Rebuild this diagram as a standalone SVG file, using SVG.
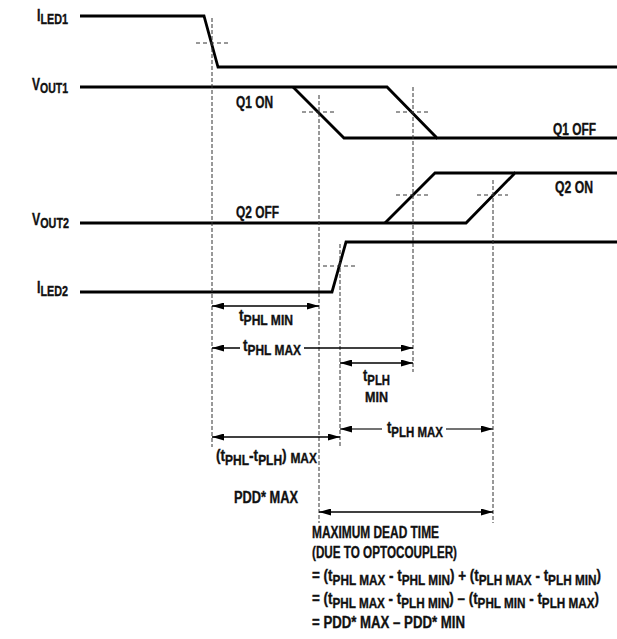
<svg xmlns="http://www.w3.org/2000/svg" width="617" height="639" viewBox="0 0 617 639">
<style>
text{font-family:"Liberation Sans",Arial,sans-serif;font-weight:bold;font-size:16px;fill:#111;stroke:#111;stroke-width:0.35}
.sub{font-size:14px}
.sig{fill:none;stroke:#000;stroke-width:2.8;stroke-linejoin:miter}
.vd{stroke:#333;stroke-width:1;stroke-dasharray:4 2;fill:none}
.hd{stroke:#333;stroke-width:1;stroke-dasharray:4 3;fill:none}
.arr{stroke:#000;stroke-width:1.5;fill:none}
.arrg{stroke:#444;stroke-width:1.5;fill:none}
</style>
<defs>
<marker id="ah" viewBox="0 0 12 7" refX="12" refY="3.5" markerWidth="12" markerHeight="7" markerUnits="userSpaceOnUse" orient="auto-start-reverse">
<path d="M0,0 L12,3.5 L0,7 Z" fill="#000"/>
</marker>
</defs>
<g id="iled1">
<polyline class="sig" points="80,16 204,16 218,67 617,67"/>
<text x="37" y="21" textLength="31" lengthAdjust="spacingAndGlyphs">I<tspan class="sub" dy="3">LED1</tspan></text>
</g>
<g id="vout1">
<polyline class="sig" points="80,87 387,87 437,138 617,138"/>
<polyline class="sig" points="293,87 344,138 437,138"/>
<text x="32" y="90" textLength="36" lengthAdjust="spacingAndGlyphs">V<tspan class="sub" dy="3">OUT1</tspan></text>
<text x="236" y="108" textLength="37" lengthAdjust="spacingAndGlyphs">Q1 ON</text>
<text x="553" y="135" textLength="43" lengthAdjust="spacingAndGlyphs">Q1 OFF</text>
</g>
<g id="vout2">
<polyline class="sig" points="80,223 466,223 515,173 617,173"/>
<polyline class="sig" points="385,223 435,173 515,173"/>
<text x="32" y="225" textLength="37" lengthAdjust="spacingAndGlyphs">V<tspan class="sub" dy="3">OUT2</tspan></text>
<text x="236" y="218" textLength="43" lengthAdjust="spacingAndGlyphs">Q2 OFF</text>
<text x="555" y="193" textLength="38" lengthAdjust="spacingAndGlyphs">Q2 ON</text>
</g>
<g id="iled2">
<polyline class="sig" points="80,292 332,292 346,242 617,242"/>
<text x="37" y="293" textLength="31" lengthAdjust="spacingAndGlyphs">I<tspan class="sub" dy="3">LED2</tspan></text>
</g>
<g id="connectors">
<line class="vd" x1="212" y1="18" x2="212" y2="447"/>
<line class="vd" x1="319" y1="95" x2="319" y2="523"/>
<line class="vd" x1="413" y1="87" x2="413" y2="372"/>
<line class="vd" x1="340" y1="244" x2="340" y2="448"/>
<line class="vd" x1="493" y1="180" x2="493" y2="523"/>
<line class="hd" x1="196" y1="43" x2="228" y2="43"/>
<line class="hd" x1="302" y1="112" x2="334" y2="112"/>
<line class="hd" x1="396" y1="112" x2="428" y2="112"/>
<line class="hd" x1="396" y1="195" x2="428" y2="195"/>
<line class="hd" x1="477" y1="195" x2="508" y2="195"/>
<line class="hd" x1="323" y1="266" x2="355" y2="266"/>
<line class="arr" x1="212" y1="306" x2="319" y2="306" marker-start="url(#ah)" marker-end="url(#ah)"/>
<line class="arr" x1="212" y1="348" x2="240" y2="348" marker-start="url(#ah)"/>
<line class="arr" x1="304" y1="348" x2="413" y2="348" marker-end="url(#ah)"/>
<line class="arr" x1="340" y1="363" x2="413" y2="363" marker-start="url(#ah)" marker-end="url(#ah)"/>
<line class="arrg" x1="340" y1="429" x2="382" y2="429" marker-start="url(#ah)"/>
<line class="arrg" x1="446" y1="429" x2="493" y2="429" marker-end="url(#ah)"/>
<line class="arr" x1="212" y1="437" x2="340" y2="437" marker-start="url(#ah)" marker-end="url(#ah)"/>
<line class="arr" x1="319" y1="512" x2="493" y2="512" marker-start="url(#ah)" marker-end="url(#ah)"/>
</g>
<g id="labels">
<text x="239" y="321" textLength="54" lengthAdjust="spacingAndGlyphs">t<tspan class="sub" dy="4">PHL MIN</tspan></text>
<text x="243" y="351" textLength="58" lengthAdjust="spacingAndGlyphs">t<tspan class="sub" dy="4">PHL MAX</tspan></text>
<text x="363" y="381" textLength="27" lengthAdjust="spacingAndGlyphs">t<tspan class="sub" dy="4">PLH</tspan></text>
<text x="365" y="402" class="sub" textLength="23" lengthAdjust="spacingAndGlyphs">MIN</text>
<text x="387" y="433" textLength="56" lengthAdjust="spacingAndGlyphs">t<tspan class="sub" dy="4">PLH MAX</tspan></text>
<text x="216" y="461" textLength="101" lengthAdjust="spacingAndGlyphs">(t<tspan class="sub" dy="4">PHL</tspan><tspan dy="-4">-t</tspan><tspan class="sub" dy="4">PLH</tspan><tspan dy="-4">) </tspan><tspan class="sub" dy="2">MAX</tspan></text>
<text x="234" y="503" textLength="64" lengthAdjust="spacingAndGlyphs">PDD* MAX</text>
<text x="312" y="538" textLength="127" lengthAdjust="spacingAndGlyphs">MAXIMUM DEAD TIME</text>
<text x="312" y="558" textLength="145" lengthAdjust="spacingAndGlyphs">(DUE TO OPTOCOUPLER)</text>
<text x="312" y="581" textLength="289" lengthAdjust="spacingAndGlyphs">= (t<tspan class="sub" dy="4">PHL MAX</tspan><tspan dy="-4"> - t</tspan><tspan class="sub" dy="4">PHL MIN</tspan><tspan dy="-4">) + (t</tspan><tspan class="sub" dy="4">PLH MAX</tspan><tspan dy="-4"> - t</tspan><tspan class="sub" dy="4">PLH MIN</tspan><tspan dy="-4">)</tspan></text>
<text x="312" y="604" textLength="287" lengthAdjust="spacingAndGlyphs">= (t<tspan class="sub" dy="4">PHL MAX</tspan><tspan dy="-4"> - t</tspan><tspan class="sub" dy="4">PLH MIN</tspan><tspan dy="-4">) – (t</tspan><tspan class="sub" dy="4">PHL MIN</tspan><tspan dy="-4"> - t</tspan><tspan class="sub" dy="4">PLH MAX</tspan><tspan dy="-4">)</tspan></text>
<text x="312" y="628" textLength="153" lengthAdjust="spacingAndGlyphs">= PDD* MAX – PDD* MIN</text>
</g>
</svg>
